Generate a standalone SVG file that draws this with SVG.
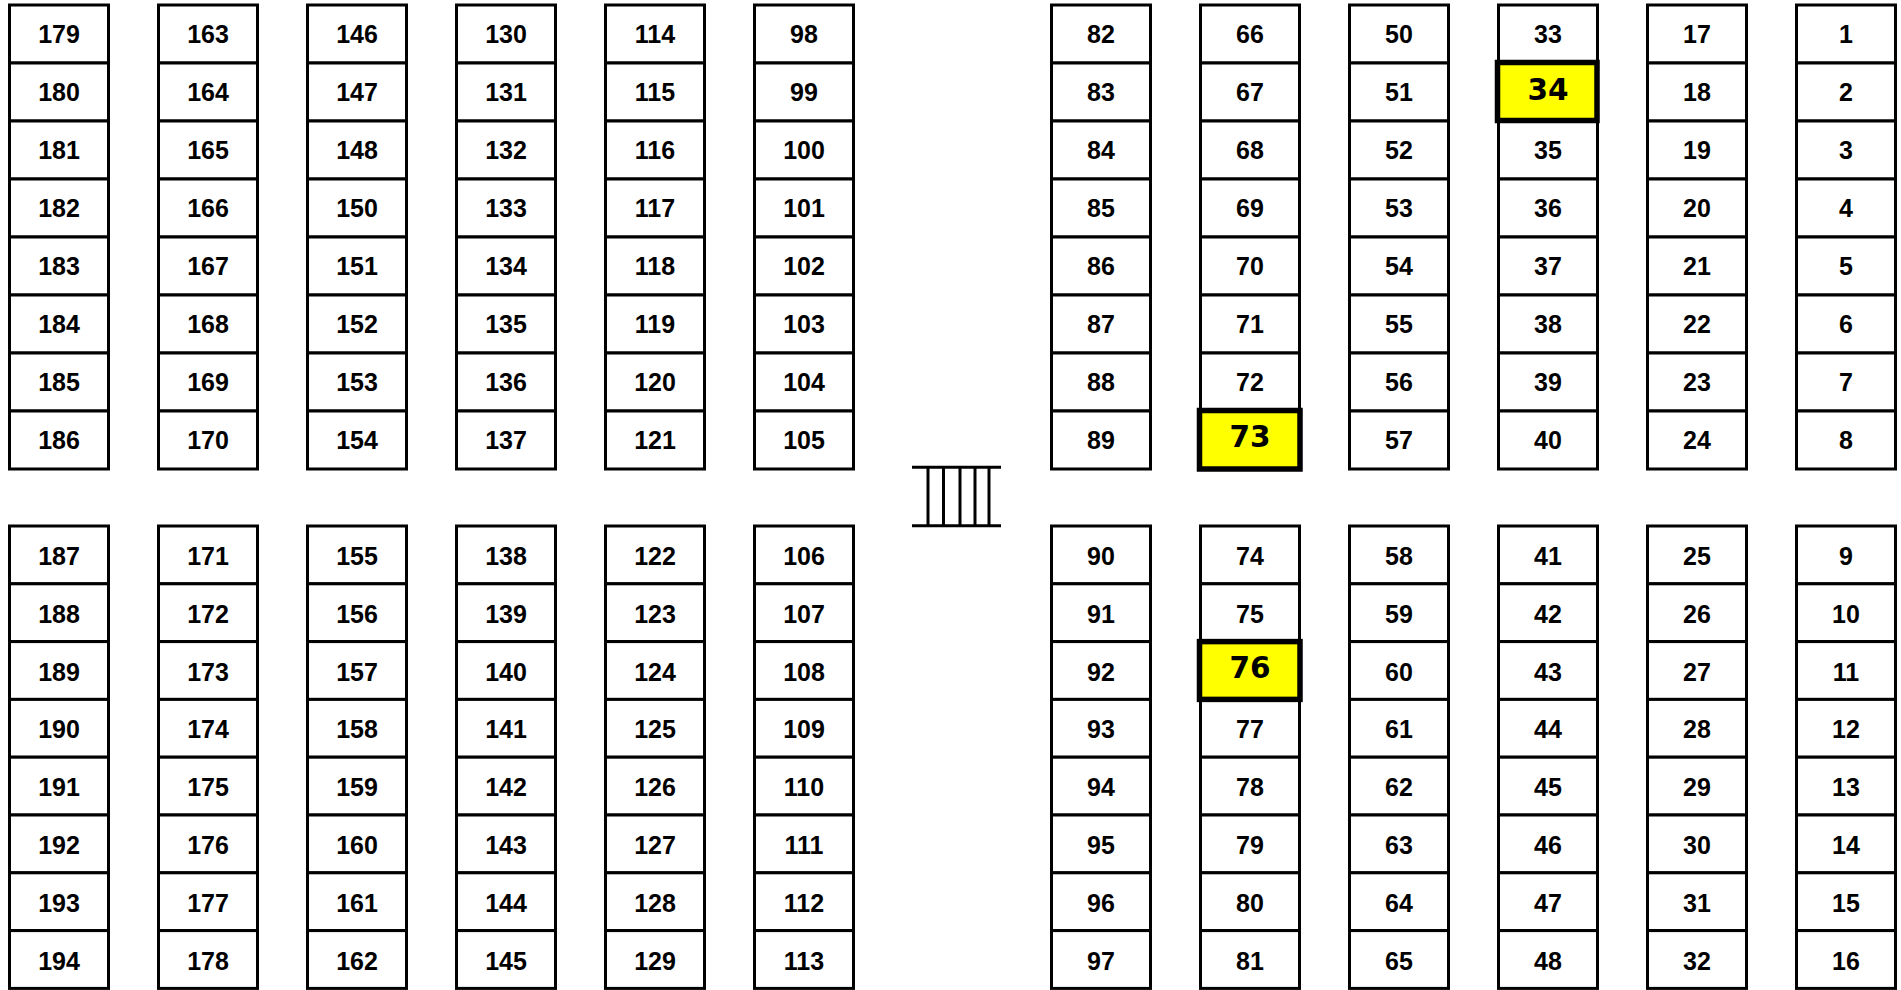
<svg xmlns="http://www.w3.org/2000/svg" width="1901" height="990" viewBox="0 0 1901 990">
<style>
rect{fill:#fff;stroke:#000;stroke-width:3}
text{font-family:"Liberation Sans",Arial,sans-serif;font-weight:bold;font-size:25px;text-anchor:middle;fill:#000}
rect.hl{fill:#ffff00;stroke-width:5.5}
text.ht{font-family:"DejaVu Sans",Verdana,sans-serif;font-size:29.5px}
line{stroke:#000;stroke-width:3}
</style>
<rect x="0" y="0" width="1901" height="990" style="stroke:none"/>
<g id="cells">
<g id="c179"><rect x="9.5" y="5" width="99" height="58"/><text x="59" y="43">179</text></g>
<g id="c180"><rect x="9.5" y="63" width="99" height="58"/><text x="59" y="101">180</text></g>
<g id="c181"><rect x="9.5" y="121" width="99" height="58"/><text x="59" y="159">181</text></g>
<g id="c182"><rect x="9.5" y="179" width="99" height="58"/><text x="59" y="217">182</text></g>
<g id="c183"><rect x="9.5" y="237" width="99" height="58"/><text x="59" y="275">183</text></g>
<g id="c184"><rect x="9.5" y="295" width="99" height="58"/><text x="59" y="333">184</text></g>
<g id="c185"><rect x="9.5" y="353" width="99" height="58"/><text x="59" y="391">185</text></g>
<g id="c186"><rect x="9.5" y="411" width="99" height="58"/><text x="59" y="449">186</text></g>
<g id="c163"><rect x="158.5" y="5" width="99" height="58"/><text x="208" y="43">163</text></g>
<g id="c164"><rect x="158.5" y="63" width="99" height="58"/><text x="208" y="101">164</text></g>
<g id="c165"><rect x="158.5" y="121" width="99" height="58"/><text x="208" y="159">165</text></g>
<g id="c166"><rect x="158.5" y="179" width="99" height="58"/><text x="208" y="217">166</text></g>
<g id="c167"><rect x="158.5" y="237" width="99" height="58"/><text x="208" y="275">167</text></g>
<g id="c168"><rect x="158.5" y="295" width="99" height="58"/><text x="208" y="333">168</text></g>
<g id="c169"><rect x="158.5" y="353" width="99" height="58"/><text x="208" y="391">169</text></g>
<g id="c170"><rect x="158.5" y="411" width="99" height="58"/><text x="208" y="449">170</text></g>
<g id="c146"><rect x="307.5" y="5" width="99" height="58"/><text x="357" y="43">146</text></g>
<g id="c147"><rect x="307.5" y="63" width="99" height="58"/><text x="357" y="101">147</text></g>
<g id="c148"><rect x="307.5" y="121" width="99" height="58"/><text x="357" y="159">148</text></g>
<g id="c150"><rect x="307.5" y="179" width="99" height="58"/><text x="357" y="217">150</text></g>
<g id="c151"><rect x="307.5" y="237" width="99" height="58"/><text x="357" y="275">151</text></g>
<g id="c152"><rect x="307.5" y="295" width="99" height="58"/><text x="357" y="333">152</text></g>
<g id="c153"><rect x="307.5" y="353" width="99" height="58"/><text x="357" y="391">153</text></g>
<g id="c154"><rect x="307.5" y="411" width="99" height="58"/><text x="357" y="449">154</text></g>
<g id="c130"><rect x="456.5" y="5" width="99" height="58"/><text x="506" y="43">130</text></g>
<g id="c131"><rect x="456.5" y="63" width="99" height="58"/><text x="506" y="101">131</text></g>
<g id="c132"><rect x="456.5" y="121" width="99" height="58"/><text x="506" y="159">132</text></g>
<g id="c133"><rect x="456.5" y="179" width="99" height="58"/><text x="506" y="217">133</text></g>
<g id="c134"><rect x="456.5" y="237" width="99" height="58"/><text x="506" y="275">134</text></g>
<g id="c135"><rect x="456.5" y="295" width="99" height="58"/><text x="506" y="333">135</text></g>
<g id="c136"><rect x="456.5" y="353" width="99" height="58"/><text x="506" y="391">136</text></g>
<g id="c137"><rect x="456.5" y="411" width="99" height="58"/><text x="506" y="449">137</text></g>
<g id="c114"><rect x="605.5" y="5" width="99" height="58"/><text x="655" y="43">114</text></g>
<g id="c115"><rect x="605.5" y="63" width="99" height="58"/><text x="655" y="101">115</text></g>
<g id="c116"><rect x="605.5" y="121" width="99" height="58"/><text x="655" y="159">116</text></g>
<g id="c117"><rect x="605.5" y="179" width="99" height="58"/><text x="655" y="217">117</text></g>
<g id="c118"><rect x="605.5" y="237" width="99" height="58"/><text x="655" y="275">118</text></g>
<g id="c119"><rect x="605.5" y="295" width="99" height="58"/><text x="655" y="333">119</text></g>
<g id="c120"><rect x="605.5" y="353" width="99" height="58"/><text x="655" y="391">120</text></g>
<g id="c121"><rect x="605.5" y="411" width="99" height="58"/><text x="655" y="449">121</text></g>
<g id="c98"><rect x="754.5" y="5" width="99" height="58"/><text x="804" y="43">98</text></g>
<g id="c99"><rect x="754.5" y="63" width="99" height="58"/><text x="804" y="101">99</text></g>
<g id="c100"><rect x="754.5" y="121" width="99" height="58"/><text x="804" y="159">100</text></g>
<g id="c101"><rect x="754.5" y="179" width="99" height="58"/><text x="804" y="217">101</text></g>
<g id="c102"><rect x="754.5" y="237" width="99" height="58"/><text x="804" y="275">102</text></g>
<g id="c103"><rect x="754.5" y="295" width="99" height="58"/><text x="804" y="333">103</text></g>
<g id="c104"><rect x="754.5" y="353" width="99" height="58"/><text x="804" y="391">104</text></g>
<g id="c105"><rect x="754.5" y="411" width="99" height="58"/><text x="804" y="449">105</text></g>
<g id="c82"><rect x="1051.5" y="5" width="99" height="58"/><text x="1101" y="43">82</text></g>
<g id="c83"><rect x="1051.5" y="63" width="99" height="58"/><text x="1101" y="101">83</text></g>
<g id="c84"><rect x="1051.5" y="121" width="99" height="58"/><text x="1101" y="159">84</text></g>
<g id="c85"><rect x="1051.5" y="179" width="99" height="58"/><text x="1101" y="217">85</text></g>
<g id="c86"><rect x="1051.5" y="237" width="99" height="58"/><text x="1101" y="275">86</text></g>
<g id="c87"><rect x="1051.5" y="295" width="99" height="58"/><text x="1101" y="333">87</text></g>
<g id="c88"><rect x="1051.5" y="353" width="99" height="58"/><text x="1101" y="391">88</text></g>
<g id="c89"><rect x="1051.5" y="411" width="99" height="58"/><text x="1101" y="449">89</text></g>
<g id="c66"><rect x="1200.5" y="5" width="99" height="58"/><text x="1250" y="43">66</text></g>
<g id="c67"><rect x="1200.5" y="63" width="99" height="58"/><text x="1250" y="101">67</text></g>
<g id="c68"><rect x="1200.5" y="121" width="99" height="58"/><text x="1250" y="159">68</text></g>
<g id="c69"><rect x="1200.5" y="179" width="99" height="58"/><text x="1250" y="217">69</text></g>
<g id="c70"><rect x="1200.5" y="237" width="99" height="58"/><text x="1250" y="275">70</text></g>
<g id="c71"><rect x="1200.5" y="295" width="99" height="58"/><text x="1250" y="333">71</text></g>
<g id="c72"><rect x="1200.5" y="353" width="99" height="58"/><text x="1250" y="391">72</text></g>
<g id="c50"><rect x="1349.5" y="5" width="99" height="58"/><text x="1399" y="43">50</text></g>
<g id="c51"><rect x="1349.5" y="63" width="99" height="58"/><text x="1399" y="101">51</text></g>
<g id="c52"><rect x="1349.5" y="121" width="99" height="58"/><text x="1399" y="159">52</text></g>
<g id="c53"><rect x="1349.5" y="179" width="99" height="58"/><text x="1399" y="217">53</text></g>
<g id="c54"><rect x="1349.5" y="237" width="99" height="58"/><text x="1399" y="275">54</text></g>
<g id="c55"><rect x="1349.5" y="295" width="99" height="58"/><text x="1399" y="333">55</text></g>
<g id="c56"><rect x="1349.5" y="353" width="99" height="58"/><text x="1399" y="391">56</text></g>
<g id="c57"><rect x="1349.5" y="411" width="99" height="58"/><text x="1399" y="449">57</text></g>
<g id="c33"><rect x="1498.5" y="5" width="99" height="58"/><text x="1548" y="43">33</text></g>
<g id="c35"><rect x="1498.5" y="121" width="99" height="58"/><text x="1548" y="159">35</text></g>
<g id="c36"><rect x="1498.5" y="179" width="99" height="58"/><text x="1548" y="217">36</text></g>
<g id="c37"><rect x="1498.5" y="237" width="99" height="58"/><text x="1548" y="275">37</text></g>
<g id="c38"><rect x="1498.5" y="295" width="99" height="58"/><text x="1548" y="333">38</text></g>
<g id="c39"><rect x="1498.5" y="353" width="99" height="58"/><text x="1548" y="391">39</text></g>
<g id="c40"><rect x="1498.5" y="411" width="99" height="58"/><text x="1548" y="449">40</text></g>
<g id="c17"><rect x="1647.5" y="5" width="99" height="58"/><text x="1697" y="43">17</text></g>
<g id="c18"><rect x="1647.5" y="63" width="99" height="58"/><text x="1697" y="101">18</text></g>
<g id="c19"><rect x="1647.5" y="121" width="99" height="58"/><text x="1697" y="159">19</text></g>
<g id="c20"><rect x="1647.5" y="179" width="99" height="58"/><text x="1697" y="217">20</text></g>
<g id="c21"><rect x="1647.5" y="237" width="99" height="58"/><text x="1697" y="275">21</text></g>
<g id="c22"><rect x="1647.5" y="295" width="99" height="58"/><text x="1697" y="333">22</text></g>
<g id="c23"><rect x="1647.5" y="353" width="99" height="58"/><text x="1697" y="391">23</text></g>
<g id="c24"><rect x="1647.5" y="411" width="99" height="58"/><text x="1697" y="449">24</text></g>
<g id="c1"><rect x="1796.5" y="5" width="99" height="58"/><text x="1846" y="43">1</text></g>
<g id="c2"><rect x="1796.5" y="63" width="99" height="58"/><text x="1846" y="101">2</text></g>
<g id="c3"><rect x="1796.5" y="121" width="99" height="58"/><text x="1846" y="159">3</text></g>
<g id="c4"><rect x="1796.5" y="179" width="99" height="58"/><text x="1846" y="217">4</text></g>
<g id="c5"><rect x="1796.5" y="237" width="99" height="58"/><text x="1846" y="275">5</text></g>
<g id="c6"><rect x="1796.5" y="295" width="99" height="58"/><text x="1846" y="333">6</text></g>
<g id="c7"><rect x="1796.5" y="353" width="99" height="58"/><text x="1846" y="391">7</text></g>
<g id="c8"><rect x="1796.5" y="411" width="99" height="58"/><text x="1846" y="449">8</text></g>

<g id="c187"><rect x="9.5" y="526" width="99" height="57.8"/><text x="59" y="565">187</text></g>
<g id="c188"><rect x="9.5" y="583.8" width="99" height="57.8"/><text x="59" y="622.8">188</text></g>
<g id="c189"><rect x="9.5" y="641.6" width="99" height="57.8"/><text x="59" y="680.6">189</text></g>
<g id="c190"><rect x="9.5" y="699.4" width="99" height="57.8"/><text x="59" y="738.4">190</text></g>
<g id="c191"><rect x="9.5" y="757.2" width="99" height="57.8"/><text x="59" y="796.2">191</text></g>
<g id="c192"><rect x="9.5" y="815" width="99" height="57.8"/><text x="59" y="854">192</text></g>
<g id="c193"><rect x="9.5" y="872.8" width="99" height="57.8"/><text x="59" y="911.8">193</text></g>
<g id="c194"><rect x="9.5" y="930.6" width="99" height="57.8"/><text x="59" y="969.6">194</text></g>
<g id="c171"><rect x="158.5" y="526" width="99" height="57.8"/><text x="208" y="565">171</text></g>
<g id="c172"><rect x="158.5" y="583.8" width="99" height="57.8"/><text x="208" y="622.8">172</text></g>
<g id="c173"><rect x="158.5" y="641.6" width="99" height="57.8"/><text x="208" y="680.6">173</text></g>
<g id="c174"><rect x="158.5" y="699.4" width="99" height="57.8"/><text x="208" y="738.4">174</text></g>
<g id="c175"><rect x="158.5" y="757.2" width="99" height="57.8"/><text x="208" y="796.2">175</text></g>
<g id="c176"><rect x="158.5" y="815" width="99" height="57.8"/><text x="208" y="854">176</text></g>
<g id="c177"><rect x="158.5" y="872.8" width="99" height="57.8"/><text x="208" y="911.8">177</text></g>
<g id="c178"><rect x="158.5" y="930.6" width="99" height="57.8"/><text x="208" y="969.6">178</text></g>
<g id="c155"><rect x="307.5" y="526" width="99" height="57.8"/><text x="357" y="565">155</text></g>
<g id="c156"><rect x="307.5" y="583.8" width="99" height="57.8"/><text x="357" y="622.8">156</text></g>
<g id="c157"><rect x="307.5" y="641.6" width="99" height="57.8"/><text x="357" y="680.6">157</text></g>
<g id="c158"><rect x="307.5" y="699.4" width="99" height="57.8"/><text x="357" y="738.4">158</text></g>
<g id="c159"><rect x="307.5" y="757.2" width="99" height="57.8"/><text x="357" y="796.2">159</text></g>
<g id="c160"><rect x="307.5" y="815" width="99" height="57.8"/><text x="357" y="854">160</text></g>
<g id="c161"><rect x="307.5" y="872.8" width="99" height="57.8"/><text x="357" y="911.8">161</text></g>
<g id="c162"><rect x="307.5" y="930.6" width="99" height="57.8"/><text x="357" y="969.6">162</text></g>
<g id="c138"><rect x="456.5" y="526" width="99" height="57.8"/><text x="506" y="565">138</text></g>
<g id="c139"><rect x="456.5" y="583.8" width="99" height="57.8"/><text x="506" y="622.8">139</text></g>
<g id="c140"><rect x="456.5" y="641.6" width="99" height="57.8"/><text x="506" y="680.6">140</text></g>
<g id="c141"><rect x="456.5" y="699.4" width="99" height="57.8"/><text x="506" y="738.4">141</text></g>
<g id="c142"><rect x="456.5" y="757.2" width="99" height="57.8"/><text x="506" y="796.2">142</text></g>
<g id="c143"><rect x="456.5" y="815" width="99" height="57.8"/><text x="506" y="854">143</text></g>
<g id="c144"><rect x="456.5" y="872.8" width="99" height="57.8"/><text x="506" y="911.8">144</text></g>
<g id="c145"><rect x="456.5" y="930.6" width="99" height="57.8"/><text x="506" y="969.6">145</text></g>
<g id="c122"><rect x="605.5" y="526" width="99" height="57.8"/><text x="655" y="565">122</text></g>
<g id="c123"><rect x="605.5" y="583.8" width="99" height="57.8"/><text x="655" y="622.8">123</text></g>
<g id="c124"><rect x="605.5" y="641.6" width="99" height="57.8"/><text x="655" y="680.6">124</text></g>
<g id="c125"><rect x="605.5" y="699.4" width="99" height="57.8"/><text x="655" y="738.4">125</text></g>
<g id="c126"><rect x="605.5" y="757.2" width="99" height="57.8"/><text x="655" y="796.2">126</text></g>
<g id="c127"><rect x="605.5" y="815" width="99" height="57.8"/><text x="655" y="854">127</text></g>
<g id="c128"><rect x="605.5" y="872.8" width="99" height="57.8"/><text x="655" y="911.8">128</text></g>
<g id="c129"><rect x="605.5" y="930.6" width="99" height="57.8"/><text x="655" y="969.6">129</text></g>
<g id="c106"><rect x="754.5" y="526" width="99" height="57.8"/><text x="804" y="565">106</text></g>
<g id="c107"><rect x="754.5" y="583.8" width="99" height="57.8"/><text x="804" y="622.8">107</text></g>
<g id="c108"><rect x="754.5" y="641.6" width="99" height="57.8"/><text x="804" y="680.6">108</text></g>
<g id="c109"><rect x="754.5" y="699.4" width="99" height="57.8"/><text x="804" y="738.4">109</text></g>
<g id="c110"><rect x="754.5" y="757.2" width="99" height="57.8"/><text x="804" y="796.2">110</text></g>
<g id="c111"><rect x="754.5" y="815" width="99" height="57.8"/><text x="804" y="854">111</text></g>
<g id="c112"><rect x="754.5" y="872.8" width="99" height="57.8"/><text x="804" y="911.8">112</text></g>
<g id="c113"><rect x="754.5" y="930.6" width="99" height="57.8"/><text x="804" y="969.6">113</text></g>
<g id="c90"><rect x="1051.5" y="526" width="99" height="57.8"/><text x="1101" y="565">90</text></g>
<g id="c91"><rect x="1051.5" y="583.8" width="99" height="57.8"/><text x="1101" y="622.8">91</text></g>
<g id="c92"><rect x="1051.5" y="641.6" width="99" height="57.8"/><text x="1101" y="680.6">92</text></g>
<g id="c93"><rect x="1051.5" y="699.4" width="99" height="57.8"/><text x="1101" y="738.4">93</text></g>
<g id="c94"><rect x="1051.5" y="757.2" width="99" height="57.8"/><text x="1101" y="796.2">94</text></g>
<g id="c95"><rect x="1051.5" y="815" width="99" height="57.8"/><text x="1101" y="854">95</text></g>
<g id="c96"><rect x="1051.5" y="872.8" width="99" height="57.8"/><text x="1101" y="911.8">96</text></g>
<g id="c97"><rect x="1051.5" y="930.6" width="99" height="57.8"/><text x="1101" y="969.6">97</text></g>
<g id="c74"><rect x="1200.5" y="526" width="99" height="57.8"/><text x="1250" y="565">74</text></g>
<g id="c75"><rect x="1200.5" y="583.8" width="99" height="57.8"/><text x="1250" y="622.8">75</text></g>
<g id="c77"><rect x="1200.5" y="699.4" width="99" height="57.8"/><text x="1250" y="738.4">77</text></g>
<g id="c78"><rect x="1200.5" y="757.2" width="99" height="57.8"/><text x="1250" y="796.2">78</text></g>
<g id="c79"><rect x="1200.5" y="815" width="99" height="57.8"/><text x="1250" y="854">79</text></g>
<g id="c80"><rect x="1200.5" y="872.8" width="99" height="57.8"/><text x="1250" y="911.8">80</text></g>
<g id="c81"><rect x="1200.5" y="930.6" width="99" height="57.8"/><text x="1250" y="969.6">81</text></g>
<g id="c58"><rect x="1349.5" y="526" width="99" height="57.8"/><text x="1399" y="565">58</text></g>
<g id="c59"><rect x="1349.5" y="583.8" width="99" height="57.8"/><text x="1399" y="622.8">59</text></g>
<g id="c60"><rect x="1349.5" y="641.6" width="99" height="57.8"/><text x="1399" y="680.6">60</text></g>
<g id="c61"><rect x="1349.5" y="699.4" width="99" height="57.8"/><text x="1399" y="738.4">61</text></g>
<g id="c62"><rect x="1349.5" y="757.2" width="99" height="57.8"/><text x="1399" y="796.2">62</text></g>
<g id="c63"><rect x="1349.5" y="815" width="99" height="57.8"/><text x="1399" y="854">63</text></g>
<g id="c64"><rect x="1349.5" y="872.8" width="99" height="57.8"/><text x="1399" y="911.8">64</text></g>
<g id="c65"><rect x="1349.5" y="930.6" width="99" height="57.8"/><text x="1399" y="969.6">65</text></g>
<g id="c41"><rect x="1498.5" y="526" width="99" height="57.8"/><text x="1548" y="565">41</text></g>
<g id="c42"><rect x="1498.5" y="583.8" width="99" height="57.8"/><text x="1548" y="622.8">42</text></g>
<g id="c43"><rect x="1498.5" y="641.6" width="99" height="57.8"/><text x="1548" y="680.6">43</text></g>
<g id="c44"><rect x="1498.5" y="699.4" width="99" height="57.8"/><text x="1548" y="738.4">44</text></g>
<g id="c45"><rect x="1498.5" y="757.2" width="99" height="57.8"/><text x="1548" y="796.2">45</text></g>
<g id="c46"><rect x="1498.5" y="815" width="99" height="57.8"/><text x="1548" y="854">46</text></g>
<g id="c47"><rect x="1498.5" y="872.8" width="99" height="57.8"/><text x="1548" y="911.8">47</text></g>
<g id="c48"><rect x="1498.5" y="930.6" width="99" height="57.8"/><text x="1548" y="969.6">48</text></g>
<g id="c25"><rect x="1647.5" y="526" width="99" height="57.8"/><text x="1697" y="565">25</text></g>
<g id="c26"><rect x="1647.5" y="583.8" width="99" height="57.8"/><text x="1697" y="622.8">26</text></g>
<g id="c27"><rect x="1647.5" y="641.6" width="99" height="57.8"/><text x="1697" y="680.6">27</text></g>
<g id="c28"><rect x="1647.5" y="699.4" width="99" height="57.8"/><text x="1697" y="738.4">28</text></g>
<g id="c29"><rect x="1647.5" y="757.2" width="99" height="57.8"/><text x="1697" y="796.2">29</text></g>
<g id="c30"><rect x="1647.5" y="815" width="99" height="57.8"/><text x="1697" y="854">30</text></g>
<g id="c31"><rect x="1647.5" y="872.8" width="99" height="57.8"/><text x="1697" y="911.8">31</text></g>
<g id="c32"><rect x="1647.5" y="930.6" width="99" height="57.8"/><text x="1697" y="969.6">32</text></g>
<g id="c9"><rect x="1796.5" y="526" width="99" height="57.8"/><text x="1846" y="565">9</text></g>
<g id="c10"><rect x="1796.5" y="583.8" width="99" height="57.8"/><text x="1846" y="622.8">10</text></g>
<g id="c11"><rect x="1796.5" y="641.6" width="99" height="57.8"/><text x="1846" y="680.6">11</text></g>
<g id="c12"><rect x="1796.5" y="699.4" width="99" height="57.8"/><text x="1846" y="738.4">12</text></g>
<g id="c13"><rect x="1796.5" y="757.2" width="99" height="57.8"/><text x="1846" y="796.2">13</text></g>
<g id="c14"><rect x="1796.5" y="815" width="99" height="57.8"/><text x="1846" y="854">14</text></g>
<g id="c15"><rect x="1796.5" y="872.8" width="99" height="57.8"/><text x="1846" y="911.8">15</text></g>
<g id="c16"><rect x="1796.5" y="930.6" width="99" height="57.8"/><text x="1846" y="969.6">16</text></g>

<g id="c34"><rect class="hl" x="1497.5" y="62.5" width="99.5" height="58"/><text class="ht" x="1548" y="99.5">34</text></g>
<g id="c73"><rect class="hl" x="1199.5" y="410.5" width="100.5" height="58.5"/><text class="ht" x="1250" y="446.5">73</text></g>
<g id="c76"><rect class="hl" x="1199.5" y="641.6" width="100.5" height="57.8"/><text class="ht" x="1250" y="678">76</text></g>
</g>
<g id="stairs">
<line x1="912" y1="467.3" x2="1001" y2="467.3"/>
<line x1="912" y1="525.7" x2="1001" y2="525.7"/>
<line x1="928" y1="467.3" x2="928" y2="525.7"/>
<line x1="943.5" y1="467.3" x2="943.5" y2="525.7"/>
<line x1="960" y1="467.3" x2="960" y2="525.7"/>
<line x1="975" y1="467.3" x2="975" y2="525.7"/>
<line x1="989" y1="467.3" x2="989" y2="525.7"/>
</g>
<g id="connectors"/>
</svg>
